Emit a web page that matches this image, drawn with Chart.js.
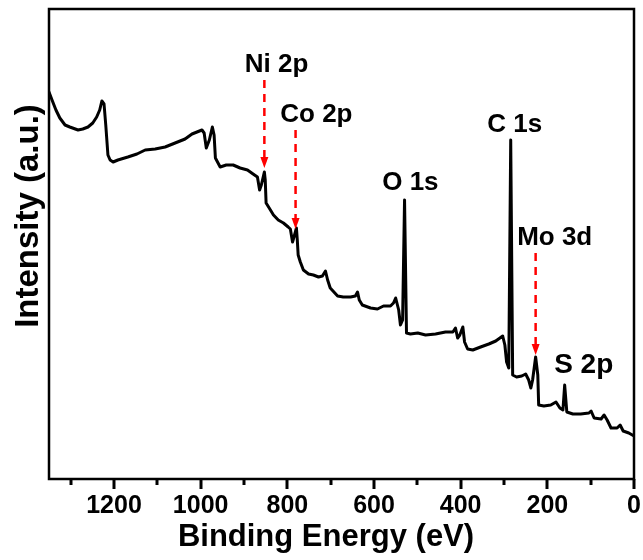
<!DOCTYPE html>
<html>
<head>
<meta charset="utf-8">
<script src="https://cdn.jsdelivr.net/npm/chart.js@4.4.0/dist/chart.umd.min.js"></script>
<style>
  html, body { margin: 0; padding: 0; background: #fff; }
  #wrap { width: 643px; height: 560px; }
</style>
</head>
<body>
<div id="wrap"><canvas id="xpsChart" width="643" height="560"></canvas></div>
<script>
// survey spectrum (binding energy in eV, intensity in a.u.)
const energy = [1350, 1343, 1334, 1325, 1313, 1302, 1283, 1272, 1260, 1249, 1240, 1233, 1228, 1223, 1219, 1214,
  1209, 1202, 1191, 1168, 1147, 1128, 1105, 1082, 1059, 1036, 1020, 997, 992, 987, 980, 973, 969, 966, 955,
  941, 925, 909, 892, 879, 869, 864, 860, 853, 851, 849, 839, 832, 821, 809, 798, 793, 788, 784, 779, 777,
  775, 770, 763, 751, 740, 728, 719, 712, 707, 701, 684, 671, 654, 643, 638, 634, 627, 608, 592, 578, 562,
  555, 550, 543, 539, 534, 529.5, 525, 516, 499, 481, 458, 435, 418, 412, 407, 402, 395, 391, 384, 372, 354,
  335, 319, 303, 298, 294, 289, 284.5, 280, 271, 259, 250, 243, 238, 234, 227, 222, 220, 208, 192, 180, 171,
  164, 160, 155, 141, 123, 104, 99, 92, 76, 69, 62, 53, 39, 32, 25, 12, 0];
const intensity = [387, 379, 369, 361, 354, 352, 349, 350, 352, 356, 362, 369, 378, 375, 354, 324,
  319, 317, 319, 322, 325, 329, 330, 332, 336, 340, 345, 349, 346, 331, 339, 352, 344, 321, 312,
  314, 314, 311, 309, 305, 302, 289, 294, 307, 299, 276, 269, 264, 259, 256, 252, 250, 237, 243, 251, 239,
  224, 217, 209, 205, 204, 202, 203, 208, 199, 191, 183, 182, 182, 183, 187, 179, 174, 171, 170, 173, 173,
  176, 181, 169, 154, 159, 279, 146, 145, 146, 144, 145, 147, 147, 151, 141, 144, 152, 137, 130, 129, 132,
  135, 138, 143, 134, 117, 111, 339, 104, 102, 103, 105, 99, 91, 99, 122, 104, 74, 73, 74, 77, 71,
  69, 94, 67, 65, 65, 66, 68, 61, 60, 64, 59, 51, 51, 54, 48, 46, 43];

const majorTicks = [1200, 1000, 800, 600, 400, 200, 0];
const minorTicks = [1300, 1100, 900, 700, 500, 300, 100];

// peak labels (centre energy, baseline intensity)
const peakNames = ['Ni 2p', 'Co 2p', 'O 1s', 'C 1s', 'Mo 3d', 'S 2p'];
const peakLabelE = [825, 733, 516, 275, 183, 116];
const peakLabelY = [407, 357, 289, 347, 234, 106];
const peakSize = [26, 26, 26, 26, 26, 28];

// dashed red arrows
const arrowE = [853, 781, 227];
const arrowFrom = [399, 349, 226];
const arrowTo = [311, 250, 124];

const FONT = '"Liberation Sans", Arial, Helvetica, sans-serif';

const decorations = {
  id: 'decorations',
  afterDraw(chart) {
    const { ctx, chartArea: a, scales: { x, y } } = chart;
    ctx.save();

    // frame
    ctx.strokeStyle = '#000';
    ctx.lineWidth = 2.5;
    ctx.strokeRect(a.left, a.top, a.right - a.left, a.bottom - a.top);

    // tick marks on the bottom axis, pointing out
    ctx.lineWidth = 3;
    ctx.lineCap = 'butt';
    majorTicks.forEach(v => {
      const px = Math.round(x.getPixelForValue(v));
      ctx.beginPath(); ctx.moveTo(px, a.bottom); ctx.lineTo(px, a.bottom + 10); ctx.stroke();
    });
    minorTicks.forEach(v => {
      const px = Math.round(x.getPixelForValue(v));
      ctx.beginPath(); ctx.moveTo(px, a.bottom); ctx.lineTo(px, a.bottom + 6); ctx.stroke();
    });

    // arrows
    ctx.strokeStyle = '#ff0000';
    ctx.fillStyle = '#ff0000';
    ctx.lineWidth = 2.5;
    arrowE.forEach((e, i) => {
      const px = x.getPixelForValue(e);
      const y0 = y.getPixelForValue(arrowFrom[i]);
      const y1 = y.getPixelForValue(arrowTo[i]);
      ctx.setLineDash([8, 6]);
      ctx.beginPath(); ctx.moveTo(px, y0); ctx.lineTo(px, y1 - 9); ctx.stroke();
      ctx.setLineDash([]);
      ctx.beginPath();
      ctx.moveTo(px - 4, y1 - 11);
      ctx.lineTo(px + 4, y1 - 11);
      ctx.lineTo(px, y1);
      ctx.closePath();
      ctx.fill();
    });

    // peak labels
    ctx.fillStyle = '#000';
    ctx.textAlign = 'center';
    ctx.textBaseline = 'alphabetic';
    peakNames.forEach((t, i) => {
      ctx.font = 'bold ' + peakSize[i] + 'px ' + FONT;
      ctx.fillText(t, x.getPixelForValue(peakLabelE[i]), y.getPixelForValue(peakLabelY[i]));
    });

    // axis titles
    ctx.font = 'bold 31px ' + FONT;
    ctx.fillText('Binding Energy (eV)', 326, 546);
    ctx.translate(38, 216);
    ctx.rotate(-Math.PI / 2);
    ctx.font = 'bold 33px ' + FONT;
    ctx.fillText('Intensity (a.u.)', 0, 0);
    ctx.restore();
  }
};

new Chart(document.getElementById('xpsChart').getContext('2d'), {
  type: 'line',
  data: {
    datasets: [{
      data: energy.map((e, i) => ({ x: e, y: intensity[i] })),
      borderColor: '#000',
      borderWidth: 3,
      borderJoinStyle: 'round',
      borderCapStyle: 'round',
      pointRadius: 0,
      tension: 0,
      fill: false
    }]
  },
  options: {
    responsive: false,
    animation: false,
    layout: { padding: { top: 9, right: 9, left: 0, bottom: 0 } },
    plugins: { legend: { display: false }, tooltip: { enabled: false } },
    scales: {
      x: {
        type: 'linear',
        reverse: true,
        min: 0,
        max: 1350,
        afterBuildTicks: s => { s.ticks = majorTicks.map(v => ({ value: v })); },
        afterFit: s => { s.height = 81; s.paddingLeft = 0; s.paddingRight = 0; },
        grid: { display: false, drawTicks: false },
        border: { display: false },
        ticks: {
          autoSkip: false, maxRotation: 0, padding: 12, color: '#000',
          callback: v => String(v),
          font: { family: FONT, size: 25, weight: 'bold' }
        },
        title: { display: false }
      },
      y: {
        min: 0,
        max: 470,
        afterFit: s => { s.width = 49; },
        grid: { display: false, drawTicks: false },
        border: { display: false },
        ticks: { display: false },
        title: { display: false }
      }
    }
  },
  plugins: [decorations]
});
</script>
</body>
</html>
